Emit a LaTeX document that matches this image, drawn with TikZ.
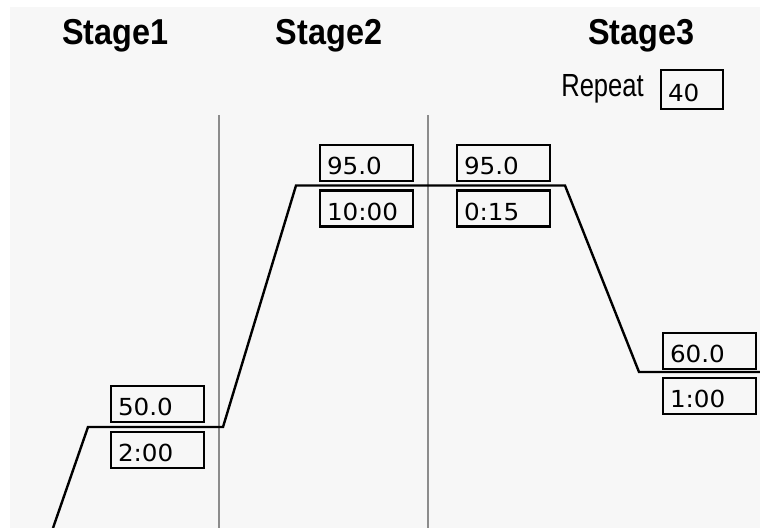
\documentclass[tikz,border=0pt]{standalone}
\usepackage{fontspec}
\newfontfamily\digitfont{DejaVu Sans}[FakeStretch=1.05]
\newfontfamily\titlefont{Liberation Sans}[FakeStretch=0.9]
\newfontfamily\repfont{Liberation Sans}[FakeStretch=0.8]
\definecolor{panel}{HTML}{F7F7F7}
\definecolor{divider}{HTML}{8C8C8C}
\begin{document}
\begin{tikzpicture}[x=0.75pt,y=-0.75pt,
  stagetitle/.style={font=\titlefont\bfseries\fontsize{27pt}{30pt}\selectfont, anchor=base, inner sep=0pt},
  replabel/.style={font=\repfont\fontsize{24pt}{28pt}\selectfont, anchor=base west, inner sep=0pt},
  valbox/.style={draw=black, line width=1.7pt, rectangle, anchor=north west,
    font=\digitfont\fontsize{17.6pt}{20pt}\selectfont,
    text width=59.25pt, align=left, inner xsep=5.25pt, inner ysep=0pt,
    text height=22.125pt, text depth=4.875pt, outer sep=0pt},
  cntbox/.style={valbox, text width=36pt, text height=24pt, text depth=5.25pt},
  divline/.style={draw=divider, line width=1pt},
  profile/.style={draw=black, line width=1.8pt, line join=miter}]
\useasboundingbox (0,0) rectangle (760,528);
\fill[white] (0,0) rectangle (760,528);
\fill[panel] (10,7) rectangle (760,528);

% titles
\node[stagetitle] (s1) at (115.5,45) {Stage1};
\node[stagetitle] (s2) at (329,45) {Stage2};
\node[stagetitle] (s3) at (641.5,45) {Stage3};

% repeat
\node[replabel] (rep) at (561,96) {Repeat};
\node[cntbox] (cnt) at (661,70) {40};

% dividers
\coordinate (d1t) at (219,115);
\coordinate (d1b) at (219,528);
\coordinate (d2t) at (428,115);
\coordinate (d2b) at (428,528);
\draw[divline] (d1t) -- (d1b);
\draw[divline] (d2t) -- (d2b);

% temperature profile
\coordinate (p0) at (53,528);
\coordinate (p1) at (88,427);
\coordinate (p2) at (223,427);
\coordinate (p3) at (296,185.5);
\coordinate (p4) at (565,185.5);
\coordinate (p5) at (639,372);
\coordinate (p6) at (760,372);
\draw[profile] (p0) -- (p1) -- (p2) -- (p3) -- (p4) -- (p5) -- (p6);

% value boxes
\node[valbox] (t1) at (111,386) {50.0};
\node[valbox] (h1) at (111,432) {2:00};
\node[valbox] (t2) at (320,145) {95.0};
\node[valbox] (h2) at (320,190.5) {10:00};
\node[valbox] (t3) at (457,145) {95.0};
\node[valbox] (h3) at (457,190.5) {0:15};
\node[valbox] (t4) at (663,333) {60.0};
\node[valbox] (h4) at (663,378) {1:00};
\end{tikzpicture}
\end{document}
